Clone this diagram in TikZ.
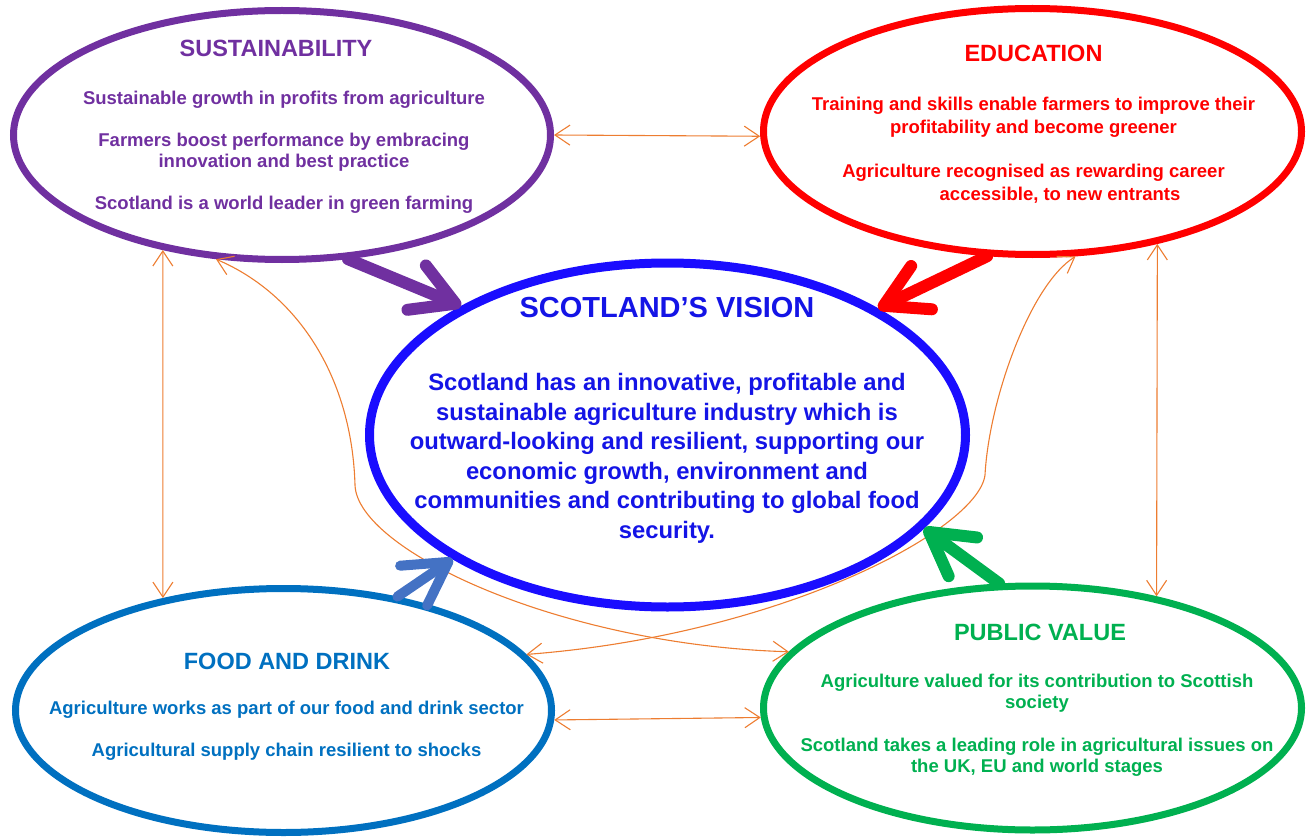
\documentclass[tikz,border=0pt]{standalone}
\usepackage{fontspec}
\setmainfont{Liberation Sans}
\usetikzlibrary{shapes.geometric,arrows.meta}
\definecolor{sustpurple}{HTML}{7030A0}
\definecolor{edured}{HTML}{FF0000}
\definecolor{visionblue}{HTML}{1A0DFF}
\definecolor{visiontext}{HTML}{1414E6}
\definecolor{foodblue}{HTML}{0070C0}
\definecolor{valuegreen}{HTML}{00B050}
\definecolor{linkorange}{HTML}{ED7D31}
\definecolor{pushblue}{HTML}{4472C4}

\begin{document}
\begin{tikzpicture}[x=1pt,y=-1pt]
\tikzset{ring/.style={shape=ellipse,draw=#1,line width=7pt,inner sep=0pt}}
\tikzset{heading/.style={font=\bfseries\fontsize{23.5}{28}\selectfont,inner sep=0pt}}
\tikzset{points/.style={font=\bfseries\fontsize{18.5}{21}\selectfont,align=center,inner sep=0pt}}
\tikzset{link/.style={linkorange,line width=1.1pt,<->,>={Straight Barb[length=15pt,width=20pt]}}}
\tikzset{push/.style={#1,line width=12pt,line cap=round,-{Straight Barb[length=42pt,width=48pt,round]}}}
\useasboundingbox (0,0) rectangle (1307,840);
\node [ring=sustpurple,minimum width=537pt,minimum height=249pt] (sust) at (282,135) {};
\node [ring=edured,minimum width=538pt,minimum height=246pt] (edu) at (1032.5,131.5) {};
\node [ring=foodblue,minimum width=536pt,minimum height=244pt] (food) at (283.5,710.5) {};
\node [ring=valuegreen,minimum width=538pt,minimum height=244pt] (pv) at (1032.5,708) {};
\node [ring=visionblue,line width=9pt,minimum width=596pt,minimum height=344pt] (vision) at (667.5,435) {};
\draw [link] (sust.east) -- (edu.-179);
\draw [link] (food.-2) -- (pv.-178);
\draw [link] (sust.-136.5) -- (food.137.6);
\draw [link] (edu.-42.7) -- (pv.42.4);
\draw [link] (sust.-118.2) .. controls (300,295) and (352,380) .. (355,485) .. controls (357,550) and (560,645) .. (pv.167.7);
\draw [link] (edu.-71.6) .. controls (1030,285) and (989,400) .. (985,475) .. controls (978,530) and (780,635) .. (food.13.3);
\draw [push=sustpurple] (sust.-62) -- (vision.148.5);
\draw [push=edured] (edu.-110.3) -- (vision.31.8);
\draw [push=pushblue,line width=10pt] (food.45.8) -- (vision.-150.1);
\draw [push=valuegreen] (pv.105.4) -- (vision.-20);
\node [heading,sustpurple] (susttitle) at (276,48) {SUSTAINABILITY};
\node [points,sustpurple] (susttext) at (284,152) {Sustainable growth in profits from agriculture\\[21pt]
Farmers boost performance by embracing\\ innovation and best practice\\[21pt]
Scotland is a world leader in green farming};
\node [heading,edured] (edutitle) at (1033.5,53) {EDUCATION};
\node [points,edured,font=\bfseries\fontsize{18.5}{23}\selectfont] (edutext) at (1033.5,150) {Training and skills enable farmers to improve their\\ profitability and become greener\\[21pt]
Agriculture recognised as rewarding career\\ \hspace*{53pt}accessible, to new entrants};
\node [heading,visiontext,font=\bfseries\fontsize{29}{34}\selectfont] (visiontitle) at (667,308) {SCOTLAND’S VISION};
\node [points,visiontext,font=\bfseries\fontsize{23.8}{29.5}\selectfont] (visiontext) at (667,458.5) {Scotland has an innovative, profitable and\\ sustainable agriculture industry which is\\ outward-looking and resilient, supporting our\\ economic growth, environment and\\ communities and contributing to global food\\ security.};
\node [heading,foodblue] (foodtitle) at (287,661) {FOOD AND DRINK};
\node [points,foodblue] (foodtext) at (286.5,731) {Agriculture works as part of our food and drink sector\\[21pt]
Agricultural supply chain resilient to shocks};
\node [heading,valuegreen] (pvtitle) at (1040,632) {PUBLIC VALUE};
\node [points,valuegreen] (pvtext) at (1037,725.5) {Agriculture valued for its contribution to Scottish\\ society\\[22pt]
Scotland takes a leading role in agricultural issues on\\ the UK, EU and world stages};
\end{tikzpicture}
\end{document}
